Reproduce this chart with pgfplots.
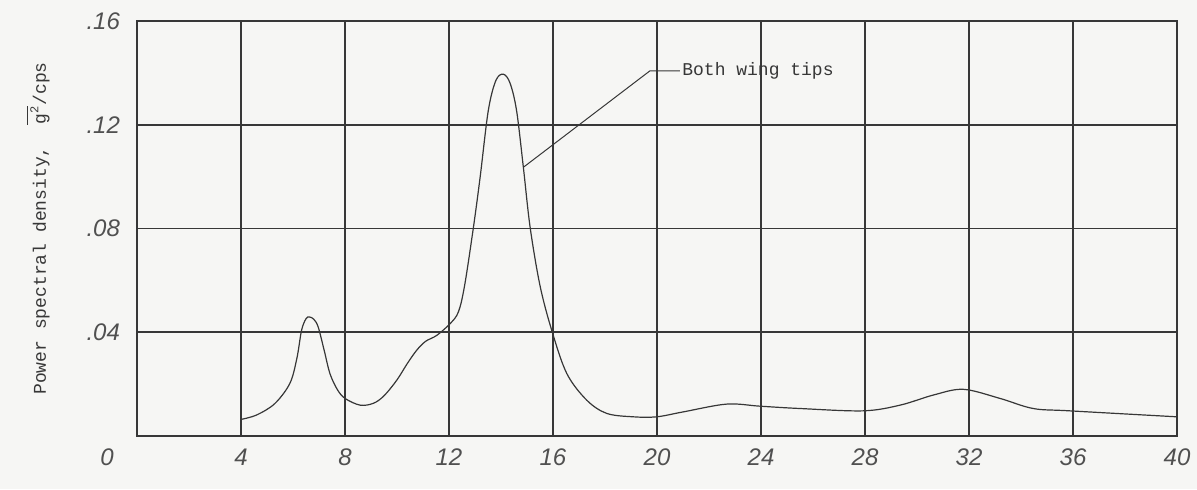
\documentclass[border=0pt]{standalone}
\usepackage{fontspec}
\setmainfont{Liberation Serif}
\setmonofont{Liberation Mono}
\newfontfamily\tickfont{Liberation Sans}
\usepackage{xcolor}
\usepackage{pgfplots}
\pgfplotsset{compat=1.18}

\definecolor{paper}{RGB}{246,246,244}
\definecolor{ink}{RGB}{55,55,55}
\definecolor{pencil}{RGB}{80,80,80}

\begin{document}
\begin{tikzpicture}
% page frame: 1px = 0.5pt
\fill[paper, use as bounding box] (-68.5pt,-26.5pt) rectangle (530pt,218pt);
\begin{axis}[
    at={(0,0)}, anchor=south west,
    scale only axis,
    width=520pt, height=207.5pt,
    xmin=0, xmax=40,
    ymin=0, ymax=0.16,
    xtick={4,8,...,40},
    ytick={0.04,0.08,0.12,0.16},
    yticklabels={.04,.08,.12,.16},
    extra x ticks={0},
    extra x tick labels={0},
    extra x tick style={grid=none, xticklabel style={xshift=-15pt}},
    grid=major,
    major grid style={ink, line width=0.8pt},
    axis line style={ink, line width=0.9pt},
    major tick length=0pt,
    tick label style={font=\tickfont\itshape\fontsize{12}{14}\selectfont, text=pencil,
        /pgf/number format/assume math mode=true},
    xticklabel style={yshift=-3pt},
    yticklabel style={xshift=-5pt},
    ylabel={Power spectral density,~~$\overline{\mbox{g\textsuperscript{2}}}$/cps},
    every axis y label/.style={at={(axis description cs:0,0.5)}, xshift=-49.5pt,
        rotate=90, anchor=center, font=\ttfamily\fontsize{9}{11}\selectfont, text=ink},
    clip=false,
]
\addplot[smooth, tension=0.55, ink, line width=0.6pt] coordinates {
    (4.0,0.0064) (4.6,0.0081) (5.3,0.0125) (5.88,0.0203) (6.15,0.030)
    (6.33,0.0408) (6.5,0.0452) (6.63,0.0459) (6.8,0.0450) (6.97,0.042)
    (7.2,0.033) (7.42,0.0241) (7.7,0.018) (8.0,0.0145) (8.58,0.0119)
    (9.09,0.0126) (9.5,0.0155) (9.99,0.0215) (10.4,0.028) (10.76,0.0331)
    (11.1,0.0365) (11.53,0.0388) (12.04,0.0433) (12.36,0.0478) (12.6,0.058)
    (12.94,0.0805) (13.2,0.100) (13.51,0.1254) (13.8,0.1370) (14.09,0.1395)
    (14.35,0.1360) (14.6,0.1254) (14.86,0.1036) (15.12,0.0805) (15.5,0.058)
    (15.95,0.0408) (16.53,0.0241) (17.3,0.0138) (18.07,0.0087) (19.09,0.0074)
    (19.99,0.0074) (21.01,0.0093) (22.68,0.0123) (23.96,0.0115) (25.5,0.0106)
    (27.93,0.0097) (29.35,0.0119) (30.63,0.0158) (31.78,0.0180) (33.19,0.0145)
    (34.47,0.0106) (35.88,0.0097) (40,0.0074)
};
% leader line to the label
\draw[ink, line width=0.5pt] (axis cs:14.86,0.1036) -- (axis cs:19.73,0.1408) -- (axis cs:20.88,0.1408)
    node[right, inner sep=1pt, font=\ttfamily\fontsize{9}{11}\selectfont, text=ink] {Both wing tips};
\end{axis}
\end{tikzpicture}
\end{document}
